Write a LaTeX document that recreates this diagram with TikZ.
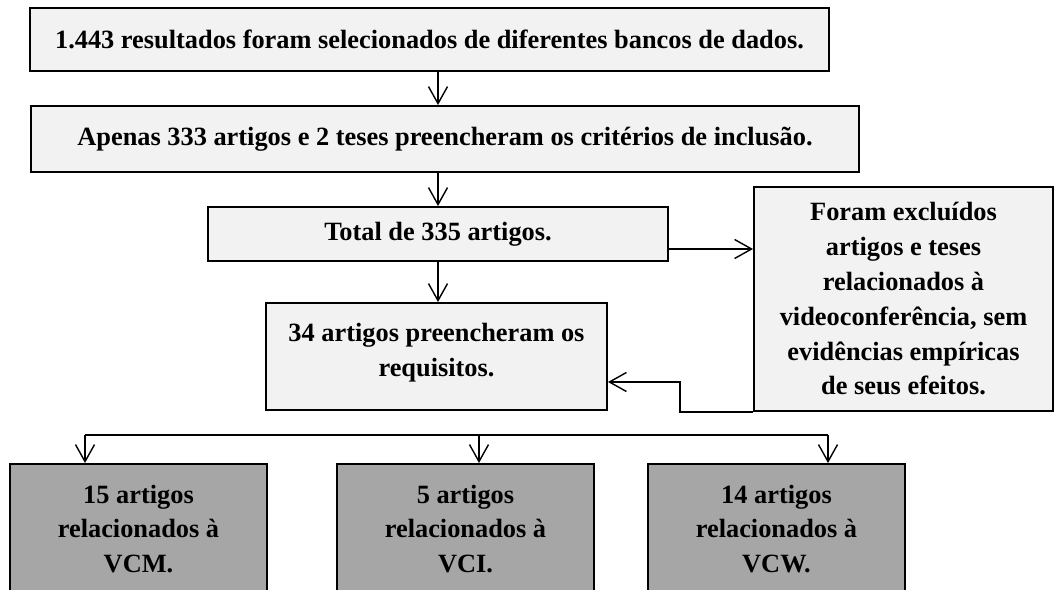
\documentclass[tikz,border=0pt]{standalone}
\usepackage{fontspec}
\setmainfont{Liberation Serif}
\usetikzlibrary{positioning,arrows.meta,calc}
\definecolor{boxlight}{HTML}{F2F2F2}
\definecolor{boxdark}{HTML}{A6A6A6}
\tikzset{
  flowbox/.style={draw, line width=1.1pt, fill=boxlight, align=center, inner sep=2pt,
    font={\fontsize{15}{19.8}\selectfont\bfseries}},
  flowdark/.style={flowbox, fill=boxdark, minimum width=51.4mm, minimum height=26mm},
  flowarrow/.style={-{Straight Barb[length=3.4mm, width=3.8mm, line width=0.8pt]}, line width=0.8pt},
  flowline/.style={line width=0.8pt},
}

\begin{document}
\begin{tikzpicture}[x=0.2mm, y=-0.2mm]
  \fill[white] (0,0) rectangle (1055,590);
  \useasboundingbox (0,0) rectangle (1055,590);
  \clip (0,0) rectangle (1055,590);
  \node[flowbox, minimum width=159.8mm, minimum height=12.6mm] (busca) at (429.5,39.5) {1.443 resultados foram selecionados de diferentes bancos de dados.};
  \node[flowbox, minimum width=165.6mm, minimum height=13.2mm] (inclusao) at (445,139) {Apenas 333 artigos e 2 teses preencheram os critérios de inclusão.};
  \node[flowbox, minimum width=92mm, minimum height=10.8mm] (total) at (438,234) {Total de 335 artigos.};
  \node[flowbox, minimum width=59.8mm, minimum height=44.8mm] (excluidos) at (903.5,299) {Foram excluídos\\artigos e teses\\relacionados à\\videoconferência, sem\\evidências empíricas\\de seus efeitos.};
  \node[flowbox, minimum width=68.2mm, minimum height=21.4mm] (requisitos) at (436.5,356.5) {34 artigos preencheram os\\requisitos.\\[-12pt]};
  \node[flowdark] (vcm) at (138.5,529) {15 artigos\\relacionados à\\VCM.};
  \node[flowdark] (vci) at (465.5,529) {5 artigos\\relacionados à\\VCI.};
  \node[flowdark] (vcw) at (776.5,529) {14 artigos\\relacionados à\\VCW.};
  % ligacoes
  \draw[flowarrow] (busca.south -| total.north) -- (inclusao.north -| total.north);
  \draw[flowarrow] (inclusao.south -| total.north) -- (total.north);
  \draw[flowarrow] (total.south) -- (requisitos.north -| total.south);
  \draw[flowarrow] ([yshift=-3mm]total.east) -- ([yshift=-3mm]total.east -| excluidos.west);
  \draw[flowarrow] (excluidos.south west) -- ++(-73,0) |- ([yshift=-5.1mm]requisitos.east);
  % divisao final
  \coordinate (splitL) at (85,435);
  \coordinate (splitM) at (479,435);
  \coordinate (splitR) at (828,435);
  \draw[flowline] (splitL) -- (splitR);
  \draw[flowarrow] (splitL) -- (splitL |- vcm.north);
  \draw[flowarrow] (splitM) -- (splitM |- vci.north);
  \draw[flowarrow] (splitR) -- (splitR |- vcw.north);
\end{tikzpicture}
\end{document}
